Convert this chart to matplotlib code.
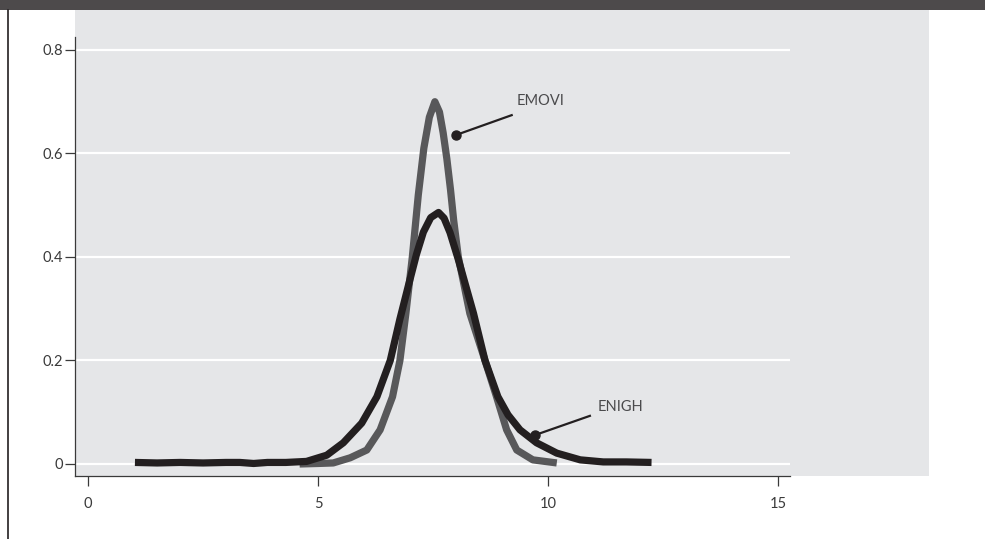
import matplotlib
matplotlib.use("Agg")
import matplotlib.pyplot as plt
from matplotlib.patches import Rectangle
from matplotlib.lines import Line2D

plt.rcParams['font.family'] = ['Lato', 'DejaVu Sans']

# ENIGH (black) density
enigh_x = [1.02, 1.5, 2.0, 2.5, 3.0, 3.3, 3.6, 3.9, 4.3, 4.75, 5.19, 5.55, 5.95, 6.28,
           6.57, 6.78, 6.98, 7.14, 7.29, 7.45, 7.62, 7.74, 7.87, 8.05, 8.38, 8.63, 8.91,
           9.13, 9.39, 9.75, 10.19, 10.70, 11.2, 11.7, 12.25]
enigh_y = [0.003, 0.002, 0.003, 0.002, 0.003, 0.003, 0.001, 0.003, 0.003, 0.005, 0.017,
           0.041, 0.079, 0.130, 0.2, 0.280, 0.35, 0.405, 0.448, 0.476, 0.486, 0.475,
           0.447, 0.395, 0.291, 0.2, 0.130, 0.095, 0.066, 0.041, 0.021, 0.008, 0.004,
           0.004, 0.003]

# EMOVI (gray) density
emovi_x = [4.6, 5.0, 5.33, 5.70, 6.06, 6.35, 6.62, 6.78, 6.91, 7.05, 7.18, 7.30, 7.42,
           7.54, 7.64, 7.72, 7.80, 7.88, 7.95, 8.05, 8.30, 8.63, 8.88, 9.10, 9.32, 9.67,
           10.19]
emovi_y = [0.0, 0.001, 0.002, 0.012, 0.027, 0.066, 0.130, 0.2, 0.291, 0.4, 0.52, 0.61,
           0.67, 0.70, 0.68, 0.64, 0.59, 0.53, 0.47, 0.4, 0.291, 0.2, 0.130, 0.066,
           0.027, 0.008, 0.002]

x_ticks = [0, 5, 10, 15]
x_labels = ['0', '5', '10', '15']
y_ticks = [0, 0.2, 0.4, 0.6, 0.8]
y_labels = ['0', '0.2', '0.4', '0.6', '0.8']

W, H = 985, 539
fig = plt.figure(figsize=(W / 100, H / 100), dpi=100)

# header band
fig.patches.append(Rectangle((0, 1 - 10 / H), 1, 10 / H, transform=fig.transFigure,
                             facecolor='#4d4a4b', edgecolor='none', zorder=-2))
# gray panel
fig.patches.append(Rectangle((75 / W, 1 - 476 / H), (929 - 75) / W, (476 - 10) / H,
                             transform=fig.transFigure, facecolor='#e5e6e8',
                             edgecolor='none', zorder=-2))
# left border line
fig.lines.append(Line2D([8 / W, 8 / W], [0, 1 - 10 / H], transform=fig.transFigure,
                        color='#231f20', linewidth=1.2, zorder=-1))

ax = fig.add_axes([75 / W, 1 - 476 / H, (790 - 75) / W, (476 - 37) / H])
ax.set_zorder(2)
ax.set_facecolor('none')
ax.set_xlim(-0.283, 15.26)
ax.set_ylim(-0.0232, 0.825)

for v in y_ticks:
    ax.axhline(v, color='white', linewidth=1.6, zorder=1)

ax.plot(emovi_x, emovi_y, color='#58585a', linewidth=5.2, solid_capstyle='butt',
        solid_joinstyle='round', zorder=3)
ax.plot(enigh_x, enigh_y, color='#231f20', linewidth=5.2, solid_capstyle='butt',
        solid_joinstyle='round', zorder=4)

# annotations
ax.plot([8.01, 9.21], [0.636, 0.674], color='#231f20', linewidth=1.6, zorder=5)
ax.plot([8.01], [0.636], 'o', color='#231f20', markersize=6.5, zorder=5)
ax.text(9.31, 0.702, 'EMOVI', fontsize=10.5, color='#4a4a4c', va='center', ha='left')
ax.plot([9.72, 10.91], [0.056, 0.093], color='#231f20', linewidth=1.6, zorder=5)
ax.plot([9.72], [0.056], 'o', color='#231f20', markersize=6.5, zorder=5)
ax.text(11.07, 0.110, 'ENIGH', fontsize=10.5, color='#4a4a4c', va='center', ha='left')

for s in ['top', 'right']:
    ax.spines[s].set_visible(False)
for s in ['left', 'bottom']:
    ax.spines[s].set_color('#3a3a3a')
    ax.spines[s].set_linewidth(0.9)

ax.set_xticks(x_ticks)
ax.set_xticklabels(x_labels)
ax.set_yticks(y_ticks)
ax.set_yticklabels(y_labels)
ax.tick_params(axis='both', colors='#3a3a3a', labelsize=10.5, width=0.9, length=7)
ax.tick_params(axis='x', pad=8)
ax.tick_params(axis='y', pad=1.5)

fig.savefig('out.png', dpi=100)
